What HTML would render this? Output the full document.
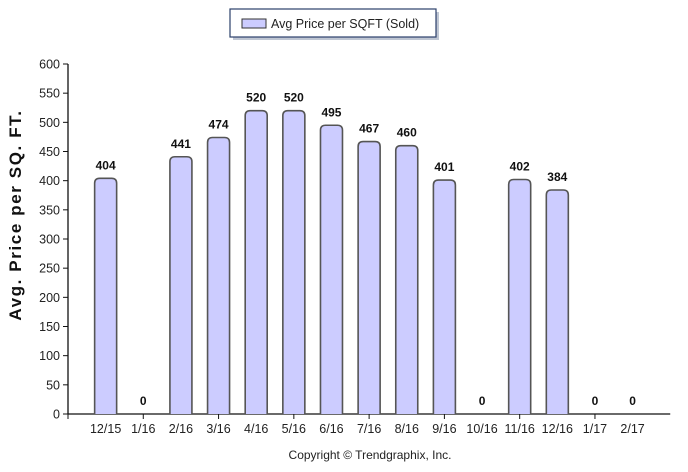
<!DOCTYPE html>
<html><head><meta charset="utf-8"><style>
body{margin:0;background:#fff;}
svg{display:block;font-family:"Liberation Sans",sans-serif;}
</style></head><body>
<svg id="chart" width="688" height="472" xmlns="http://www.w3.org/2000/svg">
  <g>
    <rect x="233" y="12" width="206" height="28" fill="#7f8ea8" opacity="0.5"/>
    <rect x="230" y="9" width="206" height="28" fill="#fff" stroke="#2b3f6a" stroke-width="1.2"/>
    <rect x="242" y="19" width="24" height="9" fill="#ccccff" stroke="#333"/>
    <text x="271" y="28" font-size="12.5" fill="#222">Avg Price per SQFT (Sold)</text>
  </g>
  <text transform="translate(21,215) rotate(-90)" text-anchor="middle" font-size="17" letter-spacing="1.6" font-weight="bold" fill="#111">Avg. Price per SQ. FT.</text>
  <g id="yaxis"></g>
  <g id="xaxis"></g>
  <g id="bars"></g>
  <text x="370" y="459" text-anchor="middle" font-size="12" fill="#222">Copyright © Trendgraphix, Inc.</text>
</svg>
<script>
const categories=["12/15","1/16","2/16","3/16","4/16","5/16","6/16","7/16","8/16","9/16","10/16","11/16","12/16","1/17","2/17"];
const values=[404,0,441,474,520,520,495,467,460,401,0,402,384,0,0];
const yTicks=[0,50,100,150,200,250,300,350,400,450,500,550,600];
const NS="http://www.w3.org/2000/svg";
const x0=68,slot=37.64,yBase=414,yTop=64,yMax=600;
function y(v){return yBase-(v/yMax)*(yBase-yTop);}
function x(i){return x0+(i+1)*slot;}
function mk(tag,attrs,parent){const e=document.createElementNS(NS,tag);for(const k in attrs)e.setAttribute(k,attrs[k]);parent.appendChild(e);return e;}
const ya=document.getElementById('yaxis'),xa=document.getElementById('xaxis'),bg=document.getElementById('bars');
mk('line',{x1:x0,y1:yTop,x2:x0,y2:yBase,stroke:'#111','stroke-width':1.3},ya);
yTicks.forEach(t=>{
  const l=mk('line',{x1:x0-5,y1:y(t),x2:x0,y2:y(t),stroke:'#111'},ya);
  
  
  const tx=mk('text',{x:x0-8,y:y(t)+4.5,'text-anchor':'end','font-size':12.5,fill:'#222'},ya);
  tx.textContent=t;
  
  
});
mk('line',{x1:x0,y1:yBase,x2:x0+16*slot,y2:yBase,stroke:'#111','stroke-width':1.3},xa);
mk('line',{x1:x0,y1:yBase,x2:x0,y2:yBase+5,stroke:'#111'},xa);
categories.forEach((c,i)=>{
  if(i%2===1){const tk=mk('line',{x1:x(i),y1:yBase,x2:x(i),y2:yBase+5,stroke:'#111'},xa);
    
    }
  const tx=mk('text',{x:x(i),y:yBase+19,'text-anchor':'middle','font-size':12.5,fill:'#222'},xa);
  tx.textContent=c;
  
  
});
values.forEach((v,i)=>{
  const w=22,cx=x(i);
  if(v>0){
    const top=y(v),r=5;
    const p=mk('path',{d:`M${cx-w/2},${yBase} L${cx-w/2},${top+r} Q${cx-w/2},${top} ${cx-w/2+r},${top} L${cx+w/2-r},${top} Q${cx+w/2},${top} ${cx+w/2},${top+r} L${cx+w/2},${yBase}`,fill:'#ccccff',stroke:'#555','stroke-width':1.6},bg);
    
    
  }
  const lb=mk('text',{x:cx,y:y(v)-9,'text-anchor':'middle','font-size':12,'font-weight':'bold',fill:'#111'},bg);
  lb.textContent=v;
  
  
});
</script>
</body></html>
